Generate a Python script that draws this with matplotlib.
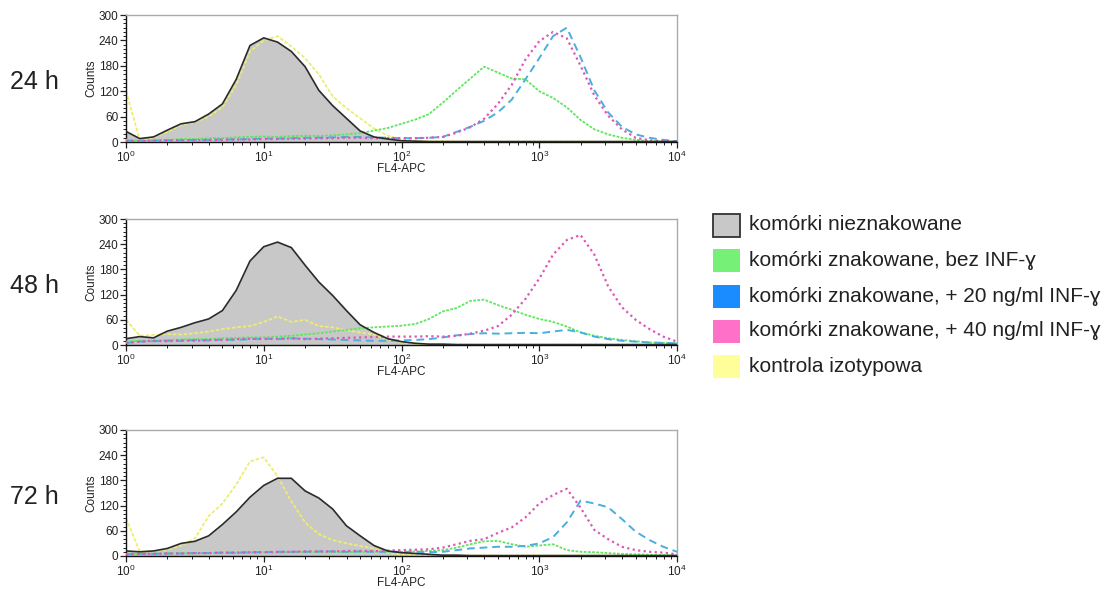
import numpy as np
import matplotlib
matplotlib.use("Agg")
import matplotlib.pyplot as plt
from matplotlib.patches import Rectangle
from matplotlib.ticker import FixedLocator, LogLocator, NullFormatter

plt.rcParams['font.family'] = ['Liberation Sans', 'DejaVu Sans']
plt.rcParams['mathtext.default'] = 'regular'

# histogram bins: FL4-APC channel, every 0.1 decade from 10^0 to 10^4
decades = np.round(np.arange(0, 4.01, 0.1), 1)
fl4 = 10 ** decades

# counts, one list per population and time point
gray24 = [25, 8, 12, 28, 43, 48, 66, 90, 148, 228,
          246, 236, 214, 178, 122, 86, 56, 26, 12, 7,
          3, 2, 1, 1, 1, 1, 1, 1, 1, 1,
          1, 1, 1, 1, 1, 1, 1, 1, 1, 1,
          1]
yellow24 = [120, 5, 10, 24, 40, 47, 60, 82, 135, 214,
            240, 250, 226, 198, 160, 108, 80, 56, 32, 15,
            6, 3, 2, 2, 1, 1, 1, 1, 1, 1,
            1, 1, 1, 1, 1, 1, 1, 1, 1, 1,
            1]
green24 = [6, 3, 4, 5, 7, 7, 9, 9, 11, 12,
           13, 12, 14, 15, 14, 16, 18, 21, 27, 33,
           43, 53, 66, 93, 122, 150, 178, 164, 150, 148,
           120, 104, 82, 52, 30, 18, 10, 5, 2, 1,
           1]
cyan24 = [3, 2, 3, 4, 4, 5, 5, 6, 6, 7,
          8, 8, 9, 10, 10, 11, 12, 12, 11, 10,
          9, 9, 10, 12, 24, 36, 50, 70, 100, 148,
          198, 250, 270, 200, 122, 70, 36, 18, 10, 5,
          2]
pink24 = [2, 2, 3, 3, 4, 4, 5, 5, 6, 6,
          7, 7, 8, 8, 9, 9, 10, 10, 9, 9,
          9, 9, 10, 12, 22, 35, 55, 90, 135, 195,
          238, 260, 245, 180, 110, 62, 30, 10, 4, 2,
          1]

gray48 = [15, 20, 17, 33, 42, 53, 62, 82, 130, 200,
          234, 245, 232, 190, 150, 118, 82, 48, 30, 15,
          8, 4, 2, 2, 1, 1, 1, 1, 1, 1,
          1, 1, 1, 1, 1, 1, 1, 1, 1, 1,
          1]
yellow48 = [60, 22, 24, 26, 25, 28, 32, 38, 42, 45,
            55, 68, 55, 60, 45, 42, 35, 30, 25, 14,
            6, 3, 2, 1, 1, 1, 1, 1, 1, 1,
            1, 1, 1, 1, 1, 1, 1, 1, 1, 1,
            1]
green48 = [8, 10, 10, 12, 13, 14, 14, 16, 17, 18,
           18, 20, 22, 25, 28, 32, 36, 40, 42, 44,
           46, 50, 62, 80, 88, 105, 108, 95, 84, 72,
           62, 55, 44, 30, 22, 16, 12, 9, 6, 5,
           4]
cyan48 = [5, 8, 9, 10, 10, 12, 11, 13, 12, 14,
          15, 14, 16, 15, 14, 13, 12, 11, 10, 10,
          11, 12, 14, 18, 23, 26, 28, 27, 28, 29,
          28, 32, 36, 30, 20, 14, 10, 8, 6, 5,
          4]
pink48 = [5, 8, 10, 9, 11, 10, 12, 12, 14, 15,
          14, 15, 16, 14, 15, 16, 17, 18, 19, 20,
          20, 20, 21, 20, 22, 27, 34, 45, 72, 110,
          158, 215, 250, 262, 215, 140, 90, 60, 38, 20,
          8]

gray72 = [12, 10, 12, 18, 30, 35, 48, 75, 105, 140,
          168, 185, 185, 155, 138, 112, 72, 48, 25, 12,
          8, 6, 4, 2, 2, 1, 1, 1, 1, 1,
          1, 1, 1, 1, 1, 1, 1, 1, 1, 1,
          1]
yellow72 = [90, 10, 12, 15, 25, 42, 95, 125, 170, 225,
            235, 190, 130, 80, 52, 38, 30, 24, 18, 8,
            3, 2, 1, 1, 1, 1, 1, 1, 1, 1,
            1, 1, 1, 1, 1, 1, 1, 1, 1, 1,
            1]
green72 = [5, 5, 6, 6, 7, 6, 7, 8, 7, 8,
           9, 8, 9, 10, 9, 10, 9, 10, 10, 10,
           10, 11, 12, 14, 20, 28, 35, 36, 28, 22,
           25, 28, 14, 10, 9, 7, 5, 4, 3, 2,
           2]
cyan72 = [4, 5, 5, 6, 6, 7, 7, 8, 8, 9,
          9, 10, 10, 10, 11, 11, 10, 11, 10, 10,
          10, 10, 9, 10, 14, 18, 20, 22, 22, 24,
          30, 45, 80, 132, 125, 116, 88, 58, 38, 22,
          10]
pink72 = [4, 5, 5, 6, 6, 7, 7, 8, 8, 9,
          9, 10, 10, 11, 11, 11, 12, 12, 12, 13,
          14, 15, 16, 20, 28, 36, 40, 55, 68, 92,
          125, 145, 160, 115, 62, 40, 22, 14, 10, 8,
          4]

time_labels = ["24 h", "48 h", "72 h"]
panels = [
    (gray24, green24, cyan24, pink24, yellow24),
    (gray48, green48, cyan48, pink48, yellow48),
    (gray72, green72, cyan72, pink72, yellow72),
]
legend_labels = [
    "komórki nieznakowane",
    "komórki znakowane, bez INF-ɣ",
    "komórki znakowane, + 20 ng/ml INF-ɣ",
    "komórki znakowane, + 40 ng/ml INF-ɣ",
    "kontrola izotypowa",
]
legend_colors = ["#c8c8c8", "#77f077", "#1a8cff", "#ff70c8", "#ffff99"]

W, H = 1107, 589
fig = plt.figure(figsize=(W / 100, H / 100), dpi=100)

# axes boxes in pixels: (top, bottom)
boxes = [(15, 142), (219, 345), (430, 556)]
left, right = 126, 677

for (top, bottom), label, (gray, green, cyan, pink, yellow) in zip(boxes, time_labels, panels):
    ax = fig.add_axes([left / W, 1 - bottom / H, (right - left) / W, (bottom - top) / H])
    ax.fill_between(fl4, gray, color="#c8c8c8", lw=0, zorder=1)
    ax.plot(fl4, yellow, color="#eded70", lw=1.3, ls=(0, (2, 1)), zorder=2)
    ax.plot(fl4, green, color="#5ee65e", lw=1.3, ls=(0, (1.5, 0.8)), zorder=3)
    ax.plot(fl4, cyan, color="#4aaee0", lw=1.4, ls=(0, (4, 2.5)), zorder=4)
    ax.plot(fl4, pink, color="#e055b8", lw=1.6, ls=(0, (1, 1.5)), zorder=5)
    ax.plot(fl4, gray, color="#2a2a2a", lw=1.2, zorder=6)

    ax.set_xscale("log")
    ax.set_xlim(1, 1e4)
    ax.set_ylim(0, 300)
    ax.set_xticks([1, 10, 100, 1000, 10000])
    ax.set_xticklabels(["$10^{0}$", "$10^{1}$", "$10^{2}$", "$10^{3}$", "$10^{4}$"])
    ax.xaxis.set_minor_locator(LogLocator(base=10, subs=np.arange(2, 10)))
    ax.xaxis.set_minor_formatter(NullFormatter())
    ax.set_yticks(np.arange(0, 301, 60))
    ax.yaxis.set_minor_locator(FixedLocator(np.arange(0, 301, 10)))
    ax.tick_params(which="major", direction="out", length=4, width=0.9,
                   labelsize=8.5, colors="#222222", pad=1.5)
    ax.tick_params(which="minor", direction="out", length=2.5, width=0.7, colors="#222222")

    for s in ("top", "right"):
        ax.spines[s].set_color("#aaaaaa")
        ax.spines[s].set_linewidth(1.0)
    for s in ("left", "bottom"):
        ax.spines[s].set_color("#111111")
        ax.spines[s].set_linewidth(1.0)

    ax.set_xlabel("FL4-APC", fontsize=8.5, color="#222222", labelpad=-1)
    ax.set_ylabel("Counts", fontsize=8.5, color="#222222", labelpad=1)

    fig.text(10 / W, 1 - ((top + bottom) / 2 + 4) / H, label,
             fontsize=18, color="#222222", va="center", ha="left")

# legend drawn in a pixel-coordinate overlay
lax = fig.add_axes([0, 0, 1, 1], zorder=10)
lax.set_xlim(0, W)
lax.set_ylim(H, 0)
lax.axis("off")
rows = [225, 260, 296, 331, 366]
for i, (y, lab, col) in enumerate(zip(rows, legend_labels, legend_colors)):
    edge = "#333333" if i == 0 else col
    lax.add_patch(Rectangle((713, y - 11.5), 27, 23, facecolor=col,
                            edgecolor=edge, lw=1.3 if i == 0 else 0))
    lax.text(749, y, lab, fontsize=15, color="#222222", va="center", ha="left")

fig.savefig("out.png", dpi=100)
